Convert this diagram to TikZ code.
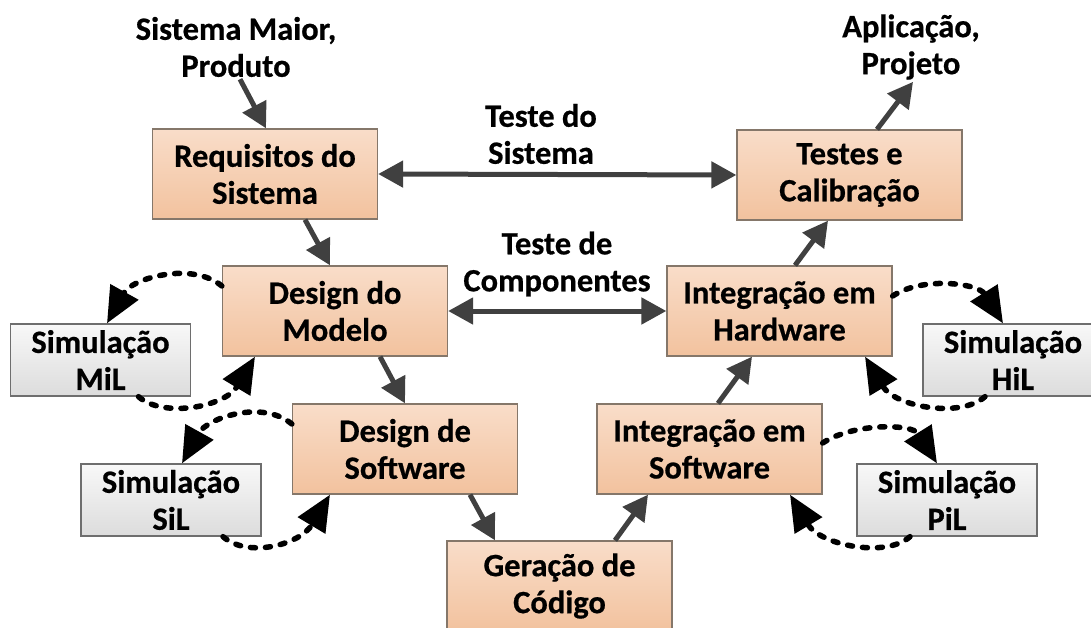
\documentclass[tikz,border=0pt]{standalone}
\usepackage{fontspec}
\setmainfont{Carlito}[BoldFont={Carlito Bold}, BoldFeatures={FakeBold=0.6}]
\usetikzlibrary{arrows.meta}
\definecolor{otop}{HTML}{F9DDC9}
\definecolor{obot}{HTML}{F2C29E}
\definecolor{oline}{HTML}{85776A}
\definecolor{gtop}{HTML}{F8F8F8}
\definecolor{gbot}{HTML}{DCDCDC}
\definecolor{gline}{HTML}{6E6E6E}
\definecolor{arr}{HTML}{404040}
\newcommand{\bigbold}{\fontsize{32.5}{37}\selectfont\bfseries}
\tikzset{
  box/.style={draw=oline, line width=1.3pt, top color=otop, bottom color=obot,
    minimum width=225pt, minimum height=90pt, inner sep=0pt, align=center,
    font=\bigbold},
  simbox/.style={draw=gline, line width=1.3pt, top color=gtop, bottom color=gbot,
    minimum width=180pt, minimum height=72pt, inner sep=0pt, align=center,
    font=\bigbold},
  lbl/.style={align=center, inner sep=0pt, font=\bigbold},
  flow/.style={draw=arr, line width=5pt, -{Triangle[length=25pt,width=26pt]}},
  both/.style={draw=arr, line width=5pt, {Triangle[length=25pt,width=26pt]}-{Triangle[length=25pt,width=26pt]}},
  sim/.style={draw=black, line width=5.5pt, line cap=round, dash pattern=on 5pt off 10pt,
    -{Triangle[length=36pt,width=31pt]}},
}
\begin{document}
\begin{tikzpicture}[x=1pt,y=-1pt]
\useasboundingbox (0,0) rectangle (1091,628);
% boxes
\node[box] (req) at (265,174) {Requisitos do\\Sistema};
\node[box] (dmod) at (335,311) {Design do\\Modelo};
\node[box] (dsw) at (405,449) {Design de\\Software};
\node[box] (ger) at (559.5,586) {Geração de\\Código};
\node[box] (isw) at (709.5,449) {Integração em\\Software};
\node[box] (ihw) at (779.5,311) {Integração em\\Hardware};
\node[box] (tes) at (849.5,175) {Testes e\\Calibração};
\node[simbox] (mil) at (100.5,360) {Simulação\\MiL};
\node[simbox] (sil) at (171,500) {Simulação\\SiL};
\node[simbox] (hil) at (1013,360) {Simulação\\HiL};
\node[simbox] (pil) at (947,500) {Simulação\\PiL};
% labels
\node[lbl] (sm) at (236,47) {Sistema Maior,\\Produto};
\node[lbl] (ap) at (911,47) {Aplicação,\\Projeto};
\node[lbl] (ts) at (541,134) {Teste do\\Sistema};
\node[lbl] (tc) at (557,264) {Teste de\\Componentes};
% solid flow arrows
\draw[flow] ([xshift=4pt,yshift=-2pt]sm.south) -- ([xshift=1pt]req.north);
\draw[flow] ([xshift=40pt]req.south) -- ([xshift=-5pt]dmod.north);
\draw[flow] ([xshift=45pt]dmod.south) -- ([xshift=0pt]dsw.north);
\draw[flow] ([xshift=65pt]dsw.south) -- ([xshift=-64.5pt]ger.north);
\draw[flow] ([xshift=55.5pt]ger.north) -- ([xshift=-61.5pt]isw.south);
\draw[flow] ([xshift=8.5pt]isw.north) -- ([xshift=-27.5pt]ihw.south);
\draw[flow] ([xshift=15.5pt]ihw.north) -- ([xshift=-21.5pt]tes.south);
\draw[flow] ([xshift=27.5pt]tes.north) -- ([xshift=2pt,yshift=-2pt]ap.south);
\draw[both] (req.east) -- (tes.west);
\draw[both] (dmod.east) -- (ihw.west);
% dashed simulation loops
\draw[sim] ([yshift=25pt]dmod.west) .. controls +(-30,-25) and +(25,-45) .. ([xshift=6.5pt]mil.north);
\draw[sim] ([xshift=38pt]mil.south) .. controls +(25,22) and +(-30,50) .. ([xshift=-80pt]dmod.south);
\draw[sim] ([yshift=25pt]dsw.west) .. controls +(-30,-25) and +(25,-45) .. ([xshift=11pt]sil.north);
\draw[sim] ([xshift=52pt]sil.south) .. controls +(25,22) and +(-30,50) .. ([xshift=-75pt]dsw.south);
\draw[sim] ([yshift=15pt]ihw.east) .. controls +(30,-20) and +(-25,-40) .. ([xshift=-10pt]hil.north);
\draw[sim] ([xshift=-28pt]hil.south) .. controls +(-25,22) and +(30,50) .. ([xshift=85.5pt]ihw.south);
\draw[sim] ([yshift=6pt]isw.east) .. controls +(30,-20) and +(-25,-40) .. ([xshift=-10pt]pil.north);
\draw[sim] ([xshift=-37pt]pil.south) .. controls +(-25,22) and +(30,50) .. ([xshift=80.5pt]isw.south);
\end{tikzpicture}
\end{document}
